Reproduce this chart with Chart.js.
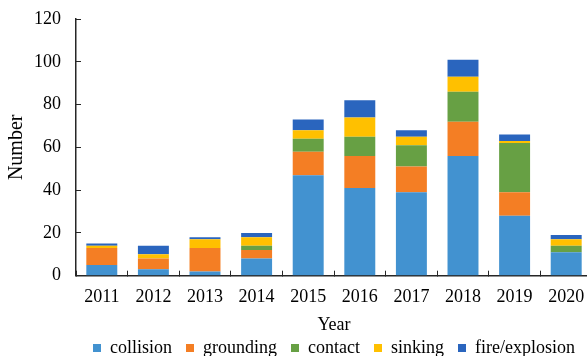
<!DOCTYPE html>
<html>
<head>
<meta charset="utf-8">
<title>Accidents by year</title>
<script src="https://cdn.jsdelivr.net/npm/chart.js@4.4.1/dist/chart.umd.min.js"></script>
<style>
    html, body { margin: 0; padding: 0; overflow: hidden; background: #fff; }
    #chartBox { width: 668px; height: 356px; }
</style>
</head>
<body>
<div id="chartBox"><canvas id="accidentChart" width="668" height="356"></canvas></div>
<script>
var years = ['2011', '2012', '2013', '2014', '2015', '2016', '2017', '2018', '2019', '2020'];

var collision = [5, 3, 2, 8, 47, 41, 39, 56, 28, 11];
var grounding = [8, 5, 11, 4, 11, 15, 12, 16, 11, 0];
var contact = [0, 0, 0, 2, 6, 9, 10, 14, 23, 3];
var sinking = [1, 2, 4, 4, 4, 9, 4, 7, 1, 3];
var fireExplosion = [1, 4, 1, 2, 5, 8, 3, 8, 3, 2];

var yMin = 0;
var yMax = 120;
var yStep = 20;

var serif = '"Liberation Serif", "Times New Roman", serif';
var axisColor = '#262626';

function DrawnAccidentChart(chartId) {

    var series = [
        { label: 'collision', data: collision, color: '#4292D0' },
        { label: 'grounding', data: grounding, color: '#F47E24' },
        { label: 'contact', data: contact, color: '#67A044' },
        { label: 'sinking', data: sinking, color: '#FFC000' },
        { label: 'fire/explosion', data: fireExplosion, color: '#2A65BE' }
    ];

    var data = {
        labels: years,
        datasets: []
    };

    series.forEach(function (s) {
        data.datasets.push({
            label: s.label,
            data: s.data,
            backgroundColor: s.color,
            borderWidth: 0,
            categoryPercentage: 1,
            barPercentage: 0.6
        });
    });

    var options = {
        responsive: false,
        animation: false,
        events: [],
        layout: {
            padding: { top: 19, right: 76, bottom: 0, left: 0 }
        },
        scales: {
            x: {
                stacked: true,
                grid: { display: true, drawOnChartArea: false, offset: true, tickLength: -5, color: axisColor, lineWidth: 1 },
                border: { display: true, color: axisColor, width: 1.5 },
                ticks: { color: '#000', padding: 15.5, maxRotation: 0, font: { family: serif, size: 18 } },
                afterFit: function (scale) {
                    scale.height = 32;
                }
            },
            y: {
                stacked: true,
                min: yMin,
                max: yMax,
                grid: { display: true, drawOnChartArea: false, tickLength: -5, color: axisColor, lineWidth: 1 },
                border: { display: true, color: axisColor, width: 1.5 },
                ticks: { stepSize: yStep, color: '#000', padding: 20, font: { family: serif, size: 18 } },
                title: {
                    display: true,
                    text: 'Number',
                    color: '#000',
                    padding: { top: 5, bottom: 0 },
                    font: { family: serif, size: 20 }
                },
                // fixed axis width; the label padding should not push the plot top down
                afterFit: function (scale) {
                    scale.width = 76;
                    scale.paddingTop = 0;
                    scale.paddingBottom = 0;
                }
            }
        },
        plugins: {
            tooltip: { enabled: false },
            title: {
                display: true,
                text: 'Year',
                position: 'bottom',
                fullSize: false,
                weight: 500,
                color: '#000',
                padding: { top: 6.5, bottom: -10.8 },
                font: { family: serif, size: 18, weight: 'normal' }
            },
            legend: {
                display: true,
                position: 'bottom',
                fullSize: false,
                maxHeight: 31,
                labels: {
                    boxWidth: 8,
                    boxHeight: 8,
                    padding: 14,
                    color: '#000',
                    font: { family: serif, size: 18 }
                }
            }
        }
    };

    var ctx = document.getElementById(chartId).getContext('2d');

    return new Chart(ctx, {
        type: 'bar',
        data: data,
        options: options
    });
}

DrawnAccidentChart('accidentChart');
</script>
</body>
</html>
